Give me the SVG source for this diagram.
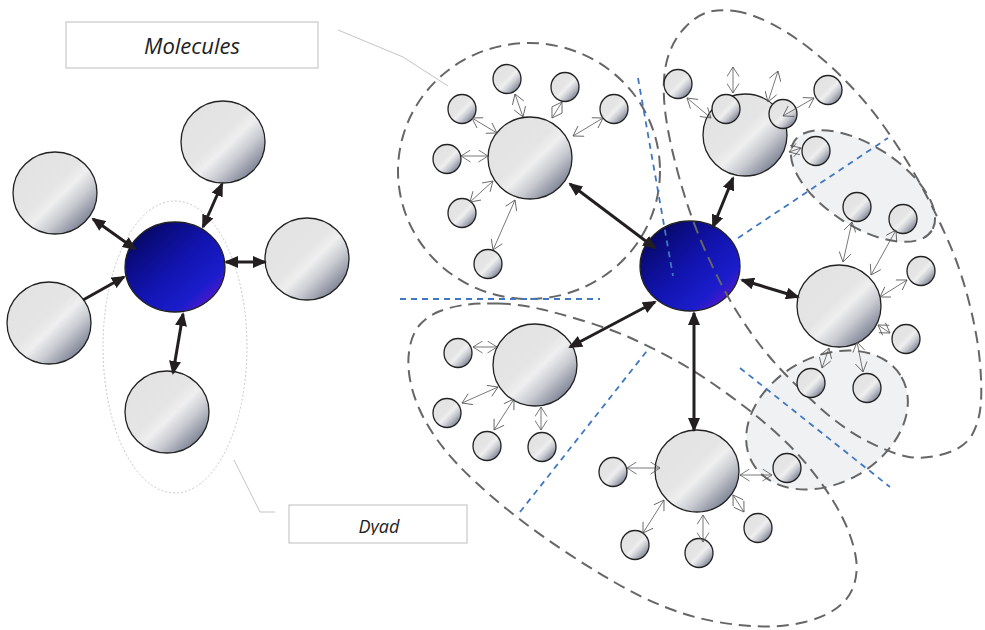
<svg xmlns="http://www.w3.org/2000/svg" width="985" height="630" viewBox="0 0 985 630">
<defs>
<style>
.gn{fill:url(#gray);stroke:#222;stroke-width:1.3}
.bn{fill:url(#blue);stroke:#222;stroke-width:1.3}
.gdash{fill:none;stroke:#666;stroke-width:2;stroke-dasharray:12 7}
.shade{fill:#f0f1f3;stroke:#666;stroke-width:2;stroke-dasharray:12 7}
.bdash{fill:none;stroke:#3f78c0;stroke-width:1.8;stroke-dasharray:6 5}
.thick{fill:none;stroke:#231f20;stroke-width:3;marker-start:url(#th);marker-end:url(#th)}
.thick1{fill:none;stroke:#231f20;stroke-width:3;marker-end:url(#th)}
.thin{fill:none;stroke:#555;stroke-width:0.8;marker-start:url(#tn);marker-end:url(#tn)}
.call{fill:none;stroke:#c4c4c4;stroke-width:1}
.box{fill:#fff;stroke:#c8c8c8;stroke-width:1.2}
.lbl{font-family:"Open Sans","Liberation Sans",sans-serif;font-style:italic;fill:#222;text-anchor:middle}
</style>
<linearGradient id="gray" x1="0" y1="0" x2="1" y2="1">
<stop offset="0" stop-color="#e2e2e2"/>
<stop offset="0.45" stop-color="#e5e5e5"/>
<stop offset="0.55" stop-color="#efeff0"/>
<stop offset="0.68" stop-color="#c9cbd1"/>
<stop offset="0.85" stop-color="#838899"/>
<stop offset="1" stop-color="#6f7486"/>
</linearGradient>
<linearGradient id="blue" x1="0" y1="0" x2="1" y2="1">
<stop offset="0" stop-color="#040440"/>
<stop offset="0.25" stop-color="#0a0c80"/>
<stop offset="0.5" stop-color="#1214b0"/>
<stop offset="0.75" stop-color="#1b1dcc"/>
<stop offset="0.86" stop-color="#4a18cc"/>
<stop offset="1" stop-color="#8010c0"/>
</linearGradient>
<marker id="th" markerUnits="userSpaceOnUse" markerWidth="14" markerHeight="12" refX="12" refY="6" orient="auto-start-reverse" viewBox="0 0 14 12">
<path d="M0,0 L14,6 L0,12 z" fill="#231f20"/>
</marker>
<marker id="tn" markerUnits="userSpaceOnUse" markerWidth="11" markerHeight="13" refX="10" refY="6.5" orient="auto-start-reverse" viewBox="0 0 11 13">
<path d="M0.5,0.5 L10,6.5 L0.5,12.5" fill="none" stroke="#555" stroke-width="0.8"/>
</marker>
<clipPath id="dyadclip"><rect x="289" y="505" width="178" height="30"/></clipPath>
</defs>

<g id="callouts">
<polyline class="call" points="338,30 403,57 448,86"/>
<polyline class="call" points="234,460 260,512 275,512"/>
</g>
<g id="label-molecules">
<rect class="box" x="66" y="22" width="252" height="46"/>
<text class="lbl" x="192" y="54" font-size="22">Molecules</text>
</g>
<g id="label-dyad">
<rect class="box" x="289" y="505" width="178" height="38"/>
<text class="lbl" x="379" y="533" font-size="18" clip-path="url(#dyadclip)">Dyad</text>
</g>

<g id="dyad-outline">
<ellipse cx="175" cy="347" rx="72" ry="146" fill="none" stroke="#c8c8c8" stroke-width="1" stroke-dasharray="2 2"/>
</g>

<g id="groups-shaded">
<ellipse class="shade" cx="863" cy="186" rx="82" ry="40" transform="rotate(33 863 186)"/>
<ellipse class="shade" cx="827" cy="420" rx="86" ry="63" transform="rotate(-30 827 420)"/>
</g>

<g id="center-right"><ellipse class="bn" cx="690" cy="266" rx="50" ry="45"/></g>

<g id="groups">
<ellipse class="gdash" cx="529" cy="171" rx="131" ry="128"/>
<path class="gdash" d="M735,11 Q750,13 770,23 Q790,33 811.5,50 Q833,67 853,88.5 Q873,110 890,135 Q907,160 920,183.5 Q933,207 946.5,237 Q960,267 968.5,300 Q977,333 979.5,358 Q982,383 981,401.5 Q980,420 972.5,434 Q965,448 944,454 Q923,460 906.5,456.5 Q890,453 865,440 Q840,427 811.5,400 Q783,373 768,355 Q753,337 738,313.5 Q723,290 706.5,253.5 Q690,217 678.5,175 Q667,133 664.5,105 Q662,77 667.5,58.5 Q673,40 685,27.5 Q697,15 708.5,12 Q720,9 735,11 Z"/>
<path class="gdash" d="M499,303.5 Q520,304 542.5,309.5 Q565,315 589,322.5 Q613,330 633,339 Q653,348 673,359 Q693,370 710.5,382 Q728,394 745,407 Q762,420 778.5,435 Q795,450 808.5,466.5 Q822,483 832,499 Q842,515 848,530 Q854,545 856,558.5 Q858,572 854,585 Q850,598 837.5,607.5 Q825,617 805,622 Q785,627 762.5,626.5 Q740,626 715,621.5 Q690,617 665,607 Q640,597 615,582.5 Q590,568 565,551.5 Q540,535 517.5,517.5 Q495,500 475,481.5 Q455,463 441.5,445.5 Q428,428 420,410.5 Q412,393 409.5,376.5 Q407,360 410,346 Q413,332 420.5,324 Q428,316 439,311.5 Q450,307 464,305 Q478,303 499,303.5 Z"/>
</g>

<g id="dividers">
<line class="bdash" x1="400" y1="299" x2="600" y2="299"/>
<line class="bdash" x1="638" y1="78" x2="673" y2="276"/>
<line class="bdash" x1="738" y1="238" x2="888" y2="138"/>
<line class="bdash" x1="520" y1="512" x2="650" y2="347"/>
<line class="bdash" x1="740" y1="368" x2="890" y2="487"/>
</g>

<g id="center-left"><ellipse class="bn" cx="175" cy="267" rx="50" ry="45"/></g>
<g id="l-top"><ellipse class="gn" cx="223" cy="142" rx="42" ry="41"/></g>
<g id="l-upleft"><ellipse class="gn" cx="55" cy="193" rx="42" ry="41"/></g>
<g id="l-right"><ellipse class="gn" cx="307" cy="259" rx="42" ry="41"/></g>
<g id="l-lowleft"><ellipse class="gn" cx="49" cy="323" rx="42" ry="41"/></g>
<g id="l-bottom"><ellipse class="gn" cx="167" cy="412" rx="42" ry="41"/></g>

<g id="hub-ul"><ellipse class="gn" cx="530" cy="158" rx="42" ry="41"/></g>
<g id="hub-ur"><ellipse class="gn" cx="745" cy="135" rx="42" ry="41"/></g>
<g id="hub-r"><ellipse class="gn" cx="839" cy="306" rx="42" ry="41"/></g>
<g id="hub-ll"><ellipse class="gn" cx="535" cy="365" rx="42" ry="41"/></g>
<g id="hub-b"><ellipse class="gn" cx="697" cy="471" rx="42" ry="41"/></g>

<g id="s-ul-1"><ellipse class="gn" cx="507" cy="79" rx="14" ry="14.5"/></g>
<g id="s-ul-2"><ellipse class="gn" cx="565" cy="87" rx="14" ry="14.5"/></g>
<g id="s-ul-3"><ellipse class="gn" cx="614" cy="109" rx="14" ry="14.5"/></g>
<g id="s-ul-4"><ellipse class="gn" cx="462" cy="109" rx="14" ry="14.5"/></g>
<g id="s-ul-5"><ellipse class="gn" cx="447" cy="159" rx="14" ry="14.5"/></g>
<g id="s-ul-6"><ellipse class="gn" cx="462" cy="213" rx="14" ry="14.5"/></g>
<g id="s-ul-7"><ellipse class="gn" cx="488" cy="264" rx="14" ry="14.5"/></g>

<g id="s-ur-1"><ellipse class="gn" cx="678" cy="84" rx="14" ry="14.5"/></g>
<g id="s-ur-2"><ellipse class="gn" cx="726" cy="109" rx="14" ry="14.5"/></g>
<g id="s-ur-3"><ellipse class="gn" cx="783" cy="114" rx="14" ry="14.5"/></g>
<g id="s-ur-4"><ellipse class="gn" cx="828" cy="90" rx="14" ry="14.5"/></g>
<g id="s-ur-5"><ellipse class="gn" cx="816" cy="151" rx="14" ry="14.5"/></g>
<g id="s-ur-6"><ellipse class="gn" cx="857" cy="207" rx="14" ry="14.5"/></g>
<g id="s-ur-7"><ellipse class="gn" cx="903" cy="219" rx="14" ry="14.5"/></g>

<g id="s-r-1"><ellipse class="gn" cx="921" cy="271" rx="14" ry="14.5"/></g>
<g id="s-r-2"><ellipse class="gn" cx="906" cy="339" rx="14" ry="14.5"/></g>
<g id="s-r-3"><ellipse class="gn" cx="811" cy="383" rx="14" ry="14.5"/></g>
<g id="s-r-4"><ellipse class="gn" cx="867" cy="388" rx="14" ry="14.5"/></g>

<g id="s-ll-1"><ellipse class="gn" cx="458" cy="353" rx="14" ry="14.5"/></g>
<g id="s-ll-2"><ellipse class="gn" cx="447" cy="413" rx="14" ry="14.5"/></g>
<g id="s-ll-3"><ellipse class="gn" cx="487" cy="446" rx="14" ry="14.5"/></g>
<g id="s-ll-4"><ellipse class="gn" cx="542" cy="447" rx="14" ry="14.5"/></g>

<g id="s-b-1"><ellipse class="gn" cx="613" cy="472" rx="14" ry="14.5"/></g>
<g id="s-b-2"><ellipse class="gn" cx="635" cy="545" rx="14" ry="14.5"/></g>
<g id="s-b-3"><ellipse class="gn" cx="699" cy="553" rx="14" ry="14.5"/></g>
<g id="s-b-4"><ellipse class="gn" cx="758" cy="528" rx="14" ry="14.5"/></g>
<g id="s-b-5"><ellipse class="gn" cx="787" cy="468" rx="14" ry="14.5"/></g>

<g id="connectors">
<line class="thick" x1="222" y1="184" x2="203" y2="227"/>
<line class="thick" x1="93" y1="219" x2="135" y2="249"/>
<line class="thick1" x1="83" y1="300" x2="124" y2="277"/>
<line class="thick" x1="226" y1="262" x2="265" y2="262"/>
<line class="thick" x1="183" y1="314" x2="173" y2="373"/>
<line class="thick" x1="570" y1="184" x2="655" y2="248"/>
<line class="thick" x1="733" y1="178" x2="713" y2="227"/>
<line class="thick" x1="742" y1="280" x2="798" y2="297"/>
<line class="thick" x1="655" y1="302" x2="570" y2="347"/>
<line class="thick" x1="694" y1="313" x2="694" y2="430"/>

<line class="thin" x1="515" y1="94" x2="523" y2="117"/>
<line class="thin" x1="562" y1="102" x2="552" y2="118"/>
<line class="thin" x1="603" y1="118" x2="573" y2="136"/>
<line class="thin" x1="472" y1="118" x2="497" y2="133"/>
<line class="thin" x1="461" y1="156" x2="488" y2="156"/>
<line class="thin" x1="470" y1="202" x2="493" y2="181"/>
<line class="thin" x1="493" y1="250" x2="515" y2="200"/>

<line class="thin" x1="687" y1="98" x2="711" y2="118"/>
<line class="thin" x1="733" y1="67" x2="733" y2="93"/>
<line class="thin" x1="778" y1="71" x2="768" y2="102"/>
<line class="thin" x1="783" y1="116" x2="814" y2="98"/>
<line class="thin" x1="789" y1="152" x2="801" y2="148"/>
<line class="thin" x1="852" y1="222" x2="843" y2="262"/>
<line class="thin" x1="896" y1="230" x2="871" y2="275"/>
<line class="thin" x1="907" y1="280" x2="880" y2="297"/>
<line class="thin" x1="878" y1="325" x2="890" y2="333"/>
<line class="thin" x1="829" y1="348" x2="822" y2="368"/>
<line class="thin" x1="857" y1="342" x2="863" y2="372"/>

<line class="thin" x1="473" y1="347" x2="497" y2="347"/>
<line class="thin" x1="462" y1="403" x2="498" y2="387"/>
<line class="thin" x1="494" y1="430" x2="514" y2="399"/>
<line class="thin" x1="541" y1="407" x2="541" y2="430"/>

<line class="thin" x1="627" y1="468" x2="660" y2="468"/>
<line class="thin" x1="643" y1="533" x2="664" y2="500"/>
<line class="thin" x1="703" y1="515" x2="703" y2="542"/>
<line class="thin" x1="733" y1="495" x2="744" y2="512"/>
<line class="thin" x1="740" y1="475" x2="772" y2="475"/>
</g>
</svg>
